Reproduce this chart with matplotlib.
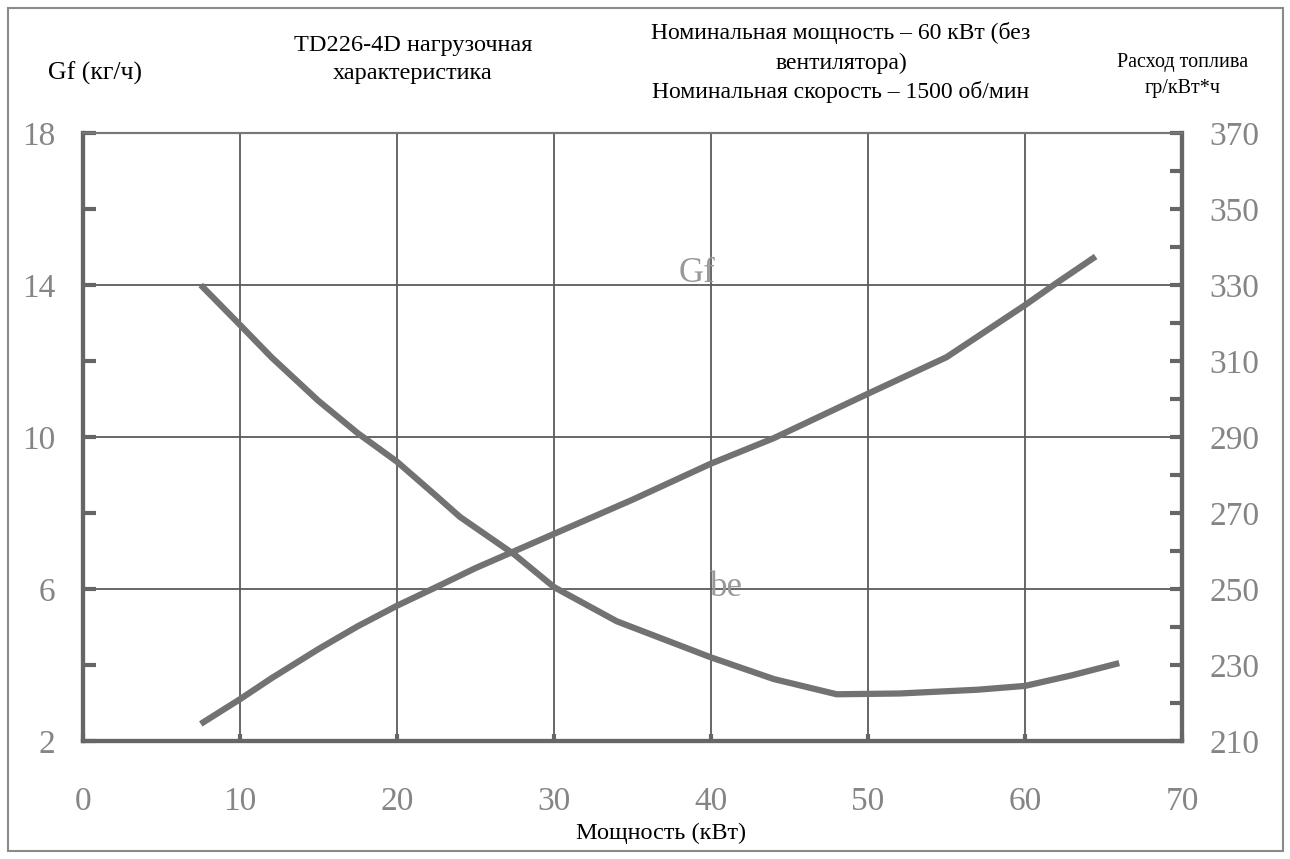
import matplotlib.pyplot as plt
from matplotlib.patches import Rectangle

# data
power_gf = [7.5, 10, 12, 15, 17.5, 20, 22.5, 25, 27.5, 30, 32.5, 35, 40, 44, 50, 55, 60, 62, 64.5]
gf = [2.45, 3.1, 3.65, 4.42, 5.02, 5.56, 6.05, 6.55, 7.0, 7.45, 7.9, 8.35, 9.3, 9.97, 11.14, 12.1, 13.47, 14.05, 14.75]

power_be = [7.5, 10, 12, 15, 17.5, 20, 22.5, 24, 27.5, 30, 34, 40, 44, 48, 52, 57, 60, 63, 66]
be = [330, 319.5, 311, 299.5, 291, 283.5, 274.5, 269, 259, 250.5, 241.5, 232, 226.3, 222.3, 222.5, 223.5, 224.5, 227.3, 230.5]

x_ticks = [0, 10, 20, 30, 40, 50, 60, 70]
left_ticks = [2, 6, 10, 14, 18]
left_minor = [4, 8, 12, 16]
right_ticks = [210, 230, 250, 270, 290, 310, 330, 350, 370]
right_minor = [220, 240, 260, 280, 300, 320, 340, 360]

serif = 'Liberation Serif'
line_col = '#727272'
grid_col = '#5a5a5a'
lab_col = '#858585'

fig = plt.figure(figsize=(12.9, 8.59), dpi=100)
ax = fig.add_axes([83/1290, 118/859, (1182-83)/1290, (741-133)/859])
ax2 = ax.twinx()

ax.set_xlim(0, 70)
ax.set_ylim(2, 18)
ax2.set_ylim(210, 370)

# grid
for v in [10, 20, 30, 40, 50, 60]:
    ax.axvline(v, color=grid_col, lw=1.3, zorder=1)
for v in [6, 10, 14]:
    ax.axhline(v, color=grid_col, lw=1.3, zorder=1)

ax.plot(power_gf, gf, color=line_col, lw=4.5, solid_capstyle='butt', zorder=3)
ax2.plot(power_be, be, color=line_col, lw=4.5, solid_capstyle='butt', zorder=3)

ax.text(39.1, 14.3, 'Gf', fontsize=25, family=serif, color='#999999', ha='center', va='center')
ax.text(41.0, 6.05, 'be', fontsize=25, family=serif, color='#999999', ha='center', va='center')

# spines
for a in (ax, ax2):
    for s in ['left', 'right', 'bottom']:
        a.spines[s].set_linewidth(3)
        a.spines[s].set_color('#666666')
    a.spines['top'].set_linewidth(1.5)
    a.spines['top'].set_color('#777777')

ax.set_xticks(x_ticks)
ax.set_xticklabels([str(v) for v in x_ticks])
ax.set_yticks(left_ticks)
ax.set_yticks(left_minor, minor=True)
ax.set_yticklabels([str(v) for v in left_ticks])
ax2.set_yticks(right_ticks)
ax2.set_yticks(right_minor, minor=True)
ax2.set_yticklabels([str(v) for v in right_ticks])

ax.tick_params(axis='x', direction='in', length=5, width=3, color='#666666', pad=33,
               labelsize=24, labelcolor=lab_col)
ax.tick_params(axis='y', which='both', direction='in', length=9, width=3, color='#666666',
               pad=20, labelsize=24, labelcolor=lab_col)
ax2.tick_params(axis='y', which='both', direction='in', length=9, width=3, color='#666666',
                pad=20, labelsize=24, labelcolor=lab_col)
for lab in ax.get_xticklabels() + ax.get_yticklabels() + ax2.get_yticklabels():
    lab.set_family(serif)

# header texts
def head(x, y, s, size):
    fig.text(x/1290, 1 - y/859, s, fontsize=size, family=serif, ha='center', va='center')

head(95, 73, 'Gf (кг/ч)', 18.5)
head(413, 45, 'TD226-4D нагрузочная', 17.5)
head(413, 73, 'характеристика', 17.5)
head(841, 33, 'Номинальная мощность – 60 кВт (без', 17)
head(841, 63, 'вентилятора)', 17)
head(841, 92, 'Номинальная скорость – 1500 об/мин', 17)
head(1183, 62, 'Расход топлива', 14.5)
head(1183, 88, 'гр/кВт*ч', 14.5)
head(661, 833, 'Мощность (кВт)', 17.5)

# outer frame of the scan
fig.patches.append(Rectangle((8/1290, 8/859), 1275/1290, 843/859, transform=fig.transFigure,
                             fill=False, edgecolor='#8a8a8a', lw=1.5))

fig.savefig('out.png', dpi=100)
